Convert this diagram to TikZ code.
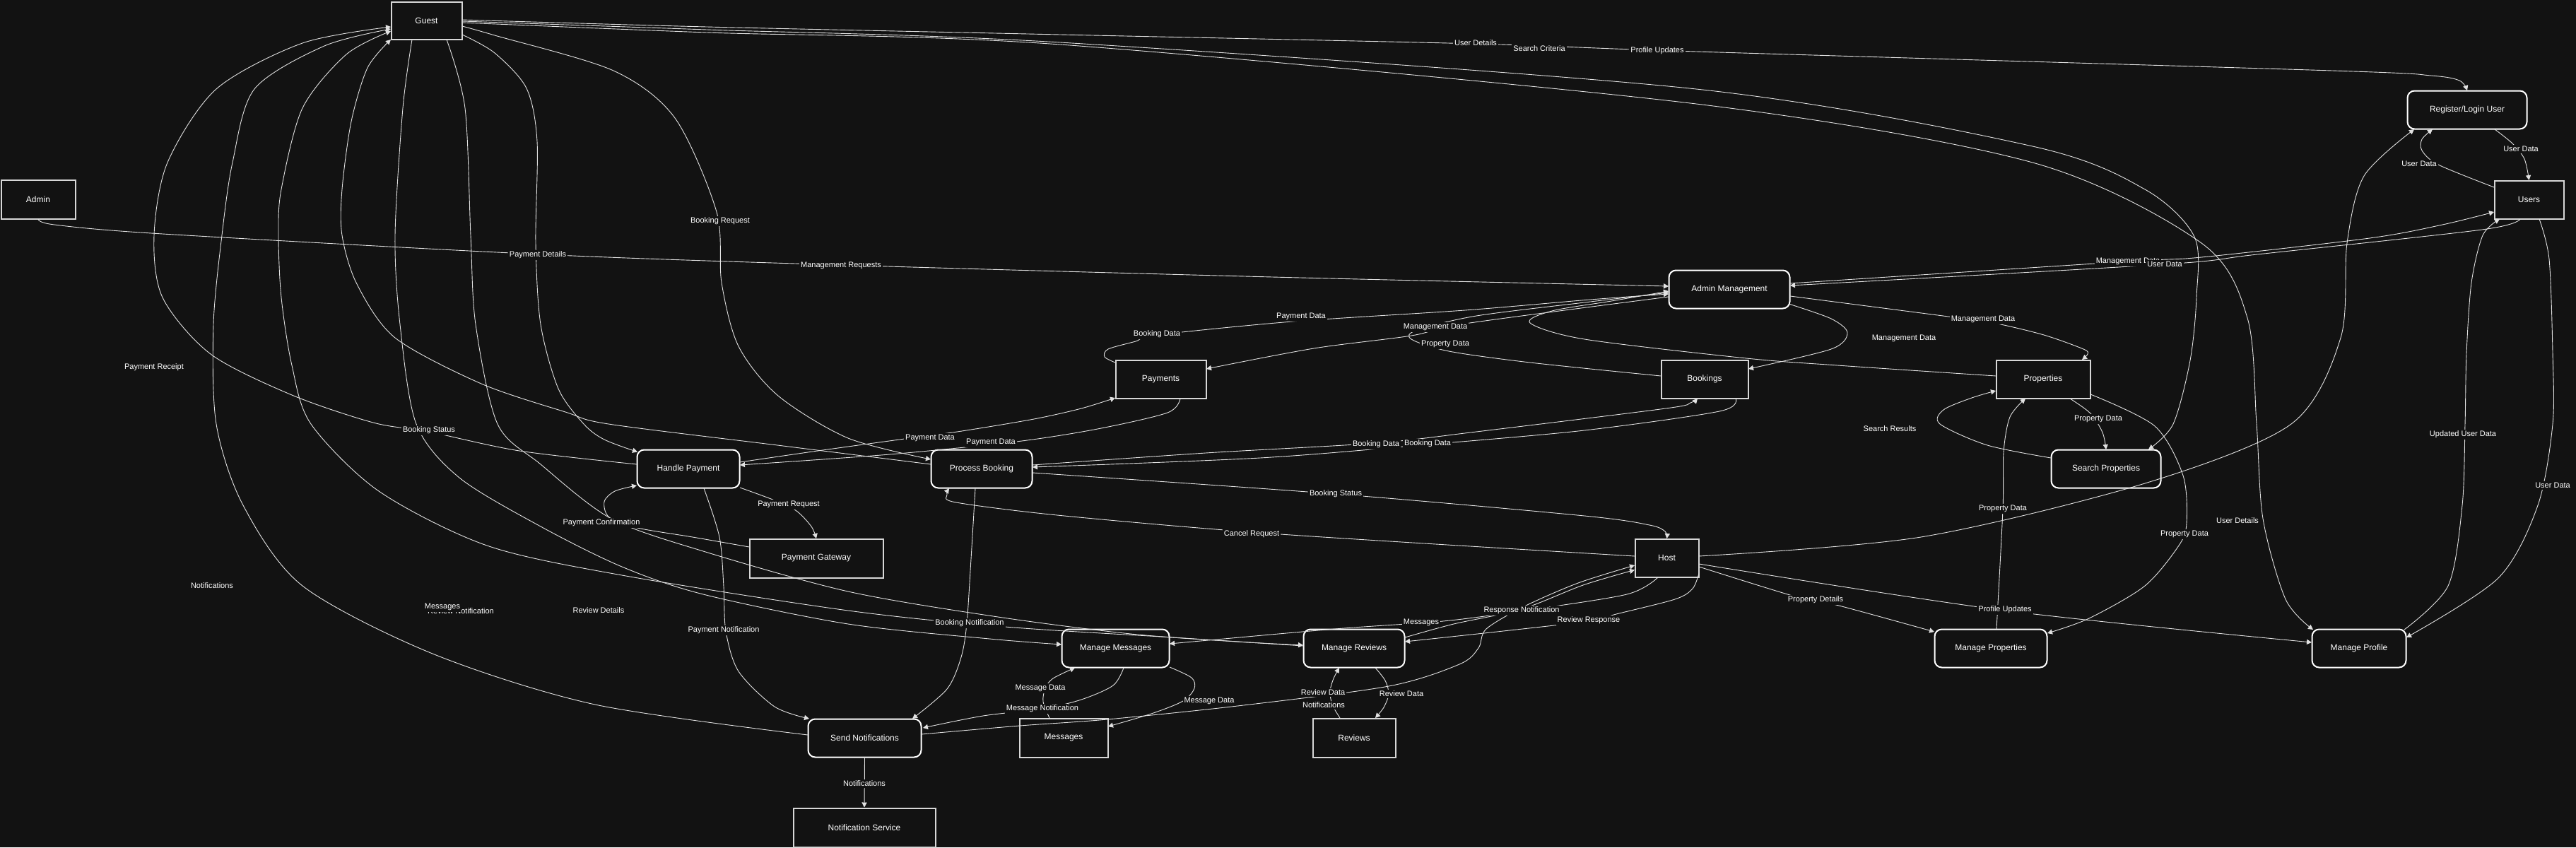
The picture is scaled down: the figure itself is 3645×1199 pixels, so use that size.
\documentclass[tikz,border=0pt]{standalone}
\usepackage{fontspec}
\setmainfont{Liberation Sans}
\usetikzlibrary{arrows.meta,calc}
\definecolor{bg}{RGB}{18,18,18}
\definecolor{edgec}{RGB}{225,225,225}
\definecolor{rectc}{RGB}{215,215,215}
\tikzset{
 ent/.style={draw=rectc, fill=bg, line width=1pt, text=white, font=\fontsize{6}{7}\selectfont, inner sep=0pt},
 proc/.style={draw=white, fill=bg, line width=1pt, rounded corners=5pt, text=white, font=\fontsize{6}{7}\selectfont, inner sep=0pt},
 edge/.style={draw=edgec, line width=0.45pt, -{Triangle[length=3.5pt,width=3.6pt]}},
 lbl/.style={fill=bg, text=white, font=\fontsize{5.5}{6}\selectfont, inner sep=1pt}
}
\begin{document}
\begin{tikzpicture}[x=0.5pt,y=-0.5pt]
\fill[bg] (0,0) rectangle (3645,1199);
\useasboundingbox (0,0) rectangle (3645,1199);
% nodes
\node[ent,minimum width=50pt,minimum height=26.5pt] (guest) at (603.5,29) {Guest};
\node[ent,minimum width=52.5pt,minimum height=27.5pt] (admin) at (54,282) {Admin};
\node[proc,minimum width=84.5pt,minimum height=27pt] (reg) at (3491,155.5) {Register/Login User};
\node[ent,minimum width=49pt,minimum height=27pt] (users) at (3578.5,282.5) {Users};
\node[proc,minimum width=85.5pt,minimum height=27pt] (adm) at (2447,409.5) {Admin Management};
\node[ent,minimum width=64pt,minimum height=27pt] (pay) at (1642.5,536.5) {Payments};
\node[ent,minimum width=61.5pt,minimum height=27pt] (book) at (2412,536.5) {Bookings};
\node[ent,minimum width=66.5pt,minimum height=27pt] (prop) at (2891,536.5) {Properties};
\node[proc,minimum width=77.5pt,minimum height=27pt] (search) at (2980,663.5) {Search Properties};
\node[proc,minimum width=72.5pt,minimum height=27pt] (hp) at (974,663.5) {Handle Payment};
\node[proc,minimum width=71.5pt,minimum height=27pt] (pb) at (1389,663.5) {Process Booking};
\node[ent,minimum width=94.5pt,minimum height=27.5pt] (pg) at (1155,790) {Payment Gateway};
\node[ent,minimum width=45pt,minimum height=27pt] (host) at (2358.5,789.5) {Host};
\node[proc,minimum width=76pt,minimum height=27pt] (mm) at (1578.5,917.5) {Manage Messages};
\node[proc,minimum width=71.5pt,minimum height=27pt] (mr) at (1916,917.5) {Manage Reviews};
\node[ent,minimum width=62.5pt,minimum height=27.5pt] (msg) at (1505,1044) {Messages};
\node[ent,minimum width=58.5pt,minimum height=27.5pt] (rev) at (1916,1044) {Reviews};
\node[proc,minimum width=80pt,minimum height=27pt] (sn) at (1223.5,1044.5) {Send Notifications};
\node[ent,minimum width=100.5pt,minimum height=27.5pt] (ns) at (1223,1171) {Notification Service};
\node[proc,minimum width=79.5pt,minimum height=27pt] (mprop) at (2817,917.5) {Manage Properties};
\node[proc,minimum width=66.5pt,minimum height=27pt] (mprof) at (3338,917.5) {Manage Profile};

% edges
\draw[edge] plot[smooth,tension=0.5] coordinates {($(guest)+(50.5,-1)$) (1000,38) (1500,49) (2088,62) (2400,73) (3300,100) (3440,107) (3480,114) ($(reg)+(0,-27.5)$)};
\draw[edge] plot[smooth,tension=0.5] coordinates {($(guest)+(50.5,1)$) (1000,42) (1500,60) (2400,126) (2876,207) (3035,268) (3105,335) (3108,420) (3099,510) (3075,600) ($(search)+(60,-27.5)$)};
\draw[edge] plot[smooth,tension=0.5] coordinates {($(guest)+(50.5,3)$) (1000,46) (1500,63) (2400,147) (2876,230) (3115,344) (3180,450) (3193,600) (3202,734) (3234,848) ($(mprof)+(-65,-26.5)$)};
\draw[edge] plot[smooth,tension=0.5] coordinates {($(guest)+(50.5,8)$) (700,50) (868,100) (955,167) (1014,300) (1021,400) (1045,490) (1101,560) (1200,620) ($(pb)+(-72,-13.5)$)};
\draw[edge] plot[smooth,tension=0.5] coordinates {($(guest)+(50.5,20)$) (700,75) (745,125) (760,200) (758,344) (765,459) (790,550) (826,600) (855,622) ($(hp)+(-72,-24)$)};
\draw[edge] plot[smooth,tension=0.5] coordinates {($(hp)+(-73,-6.5)$) (735,638) (607,611) (528,598) (413,559) (298,501) (230,421) (218,333) (237,230) (306,126) (428,61) ($(guest)+(-50.5,9)$)};
\draw[edge] plot[smooth,tension=0.5] coordinates {($(sn)+(-80.5,-4.5)$) (842,997) (612,925) (428,829) (344,715) (306,600) (302,459) (314,333) (329,230) (360,126) (459,65) ($(guest)+(-50.5,12)$)};
\draw[edge] plot[smooth,tension=0.5] coordinates {($(mr)+(-72,-3.5)$) (1659,902) (1422,887) (1200,864) (880,814) (689,772) (536,695) (440,600) (413,517) (398,421) (394,333) (398,268) (428,153) (490,77) ($(guest)+(-50.5,15)$)};
\draw[edge] plot[smooth,tension=0.5] coordinates {($(pb)+(-72,-6.5)$) (1100,630) (861,600) (800,583) (681,543) (559,478) (505,402) (484,333) (484,268) (497,172) (520,96) ($(guest)+(-50.5,27)$)};
\draw[edge] plot[smooth,tension=0.5] coordinates {($(guest)+(-20.5,27)$) (570,153) (559,333) (566,459) (589,600) (650,676) (765,745) (880,802) (995,841) (1200,883) (1400,904) ($(mm)+(-76.5,-5.5)$)};
\draw[edge] plot[smooth,tension=0.5] coordinates {($(guest)+(28.5,27)$) (658,153) (666,333) (673,459) (704,600) (765,657) (865,734) (995,780) (1200,837) (1412,873) (1600,897) (1750,908) ($(mr)+(-72,-4.5)$)};
\draw[edge] plot[smooth,tension=0.5] coordinates {($(pg)+(-95,-16)$) (980,760) (902,747) (862,732) (855,710) (870,695) ($(hp)+(-73,23.5)$)};
\draw[edge] plot[smooth,tension=0.5] coordinates {($(hp)+(73,26.5)$) (1096,708) (1127,723) (1148,745) ($(pg)+(0,-28)$)};
\draw[edge] plot[smooth,tension=0.5] coordinates {($(hp)+(22,27.5)$) (1018,760) (1024,830) (1027,893) (1045,950) (1096,1000) ($(sn)+(-78.5,-27.5)$)};
\draw[edge] plot[smooth,tension=0.5] coordinates {($(pb)+(-9,27.5)$) (1374,791) (1368,882) (1360,930) (1340,975) ($(sn)+(67.5,-27.5)$)};
\draw[edge] (sn.south) -- (ns.north);
\draw[edge] plot[smooth,tension=0.5] coordinates {($(mm)+(11.5,27.5)$) (1575,970) (1530,990) (1475,1003) (1391,1013) ($(sn)+(82.5,-14.5)$)};
\draw[edge] plot[smooth,tension=0.5] coordinates {($(msg)+(-20,-28)$) (1476,993) (1479,974) (1490,960) ($(mm)+(-57.5,27.5)$)};
\draw[edge] plot[smooth,tension=0.5] coordinates {($(mm)+(76.5,26.5)$) (1686,959) (1690,974) (1674,992) (1629,1010) ($(msg)+(63,-16)$)};
\draw[edge] plot[smooth,tension=0.5] coordinates {($(sn)+(80.5,-5.5)$) (1443,1027) (1567,1018) (1751,999) (1965,971) (2065,940) (2092,917) (2103,890) (2157,858) (2233,825) ($(host)+(-45.5,10.5)$)};
\draw[edge] plot[smooth,tension=0.5] coordinates {($(mr)+(72,-15.5)$) (2057,883) (2153,862) (2240,828) ($(host)+(-45.5,17)$)};
\draw[edge] plot[smooth,tension=0.5] coordinates {($(host)+(-12.5,27.5)$) (2302,841) (2157,864) (2042,879) (1889,890) ($(mm)+(76.5,-6.5)$)};
\draw[edge] plot[smooth,tension=0.5] coordinates {($(host)+(45.5,21.5)$) (2395,833) (2370,848) (2287,869) (2248,879) (2118,894) ($(mr)+(72,-9.5)$)};
\draw[edge] plot[smooth,tension=0.5] coordinates {($(pb)+(72,5.5)$) (1890,699) (2242,730) (2334,743) (2356,752) ($(host)+(0,-27.5)$)};
\draw[edge] plot[smooth,tension=0.5] coordinates {($(host)+(-45.5,-2.5)$) (1812,756) (1506,730) (1353,711) (1340,700) ($(pb)+(-46,27.5)$)};
\draw[edge] plot[smooth,tension=0.5] coordinates {($(pb)+(72,-5.5)$) (1706,641) (1947,627) (2089,611) (2357,578) (2392,570) ($(book)+(-10,27.5)$)};
\draw[edge] plot[smooth,tension=0.5] coordinates {($(book)+(44,27.5)$) (2433,582) (2242,609) (2020,629) (1783,648) ($(pb)+(72,-2.5)$)};
\draw[edge] plot[smooth,tension=0.5] coordinates {($(hp)+(73,-9.5)$) (1157,638) (1280,621) (1361,610) (1463,593) (1530,578) ($(pay)+(-64.5,26.5)$)};
\draw[edge] plot[smooth,tension=0.5] coordinates {($(pay)+(27.5,27.5)$) (1652,584) (1553,607) (1438,625) (1259,643) ($(hp)+(73,-5.5)$)};
\draw[edge] plot[smooth,tension=0.5] coordinates {($(pay)+(-64.5,-23.5)$) (1563,505) (1568,494) (1607,483) (1637,474) (1829,455) (2073,439) (2250,424) ($(adm)+(-86,6.5)$)};
\draw[edge] plot[smooth,tension=0.5] coordinates {($(adm)+(-86,10.5)$) (2073,458) (1997,475) (1859,493) ($(pay)+(64.5,-14.5)$)};
\draw[edge] plot[smooth,tension=0.5] coordinates {($(book)+(-62,-4.5)$) (2165,513) (2050,497) (1997,480) (2005,467) (2089,447) (2242,428) ($(adm)+(-86,4.5)$)};
\draw[edge] plot[smooth,tension=0.5] coordinates {($(prop)+(-67,-4.5)$) (2600,517) (2471,507) (2242,480) (2165,457) (2196,440) (2280,426) ($(adm)+(-86,2.5)$)};
\draw[edge] plot[smooth,tension=0.5] coordinates {($(admin)+(0,28)$) (77,318) (230,331) (765,360) (1190,375) (1800,392) ($(adm)+(-86,-4.5)$)};
\draw[edge] plot[smooth,tension=0.5] coordinates {($(users)+(-12.5,27.5)$) (3512,325) (3194,360) (3063,374) ($(adm)+(86,-5.5)$)};
\draw[edge] plot[smooth,tension=0.5] coordinates {($(adm)+(86,-8.5)$) (3011,370) (3115,364) (3353,337) (3456,318) ($(users)+(-49.5,17.5)$)};
\draw[edge] plot[smooth,tension=0.5] coordinates {($(adm)+(84,20.5)$) (2591,451) (2614,471) (2591,494) ($(book)+(62,-14.5)$)};
\draw[edge] plot[smooth,tension=0.5] coordinates {($(adm)+(86,9.5)$) (2757,448) (2821,457) (2892,474) (2948,494) (2954,501) ($(prop)+(55,-27.5)$)};
\draw[edge] plot[smooth,tension=0.5] coordinates {($(prop)+(38,27.5)$) (2958,585) (2975,612) ($(search)+(0,-27.5)$)};
\draw[edge] plot[smooth,tension=0.5] coordinates {($(search)+(-78,-15.5)$) (2812,630) (2745,600) (2750,580) (2790,563) ($(prop)+(-67,16.5)$)};
\draw[edge] plot[smooth,tension=0.5] coordinates {($(mprop)+(8,-27.5)$) (2834,720) (2835,640) (2844,590) ($(prop)+(-25,27.5)$)};
\draw[edge] plot[smooth,tension=0.5] coordinates {($(prop)+(67,21.5)$) (3049,603) (3089,673) (3094,740) (3083,772) (3035,829) (2956,875) ($(mprop)+(80,-21.5)$)};
\draw[edge] plot[smooth,tension=0.5] coordinates {($(host)+(45.5,12.5)$) (2543,845) (2602,857) ($(mprop)+(-80,-23.5)$)};
\draw[edge] plot[smooth,tension=0.5] coordinates {($(host)+(45.5,8.5)$) (2837,864) ($(mprof)+(-67,-8.5)$)};
\draw[edge] plot[smooth,tension=0.5] coordinates {($(host)+(45.5,-2.5)$) (2718,760) (3035,684) (3242,600) (3312,478) (3321,344) (3345,249) ($(reg)+(-75,27.5)$)};
\draw[edge] plot[smooth,tension=0.5] coordinates {($(users)+(-49.5,-17.5)$) (3450,233) (3427,213) (3427,197) ($(reg)+(-49,27.5)$)};
\draw[edge] plot[smooth,tension=0.5] coordinates {($(reg)+(39,27.5)$) (3555,203) (3572,225) ($(users)+(0,-27.5)$)};
\draw[edge] plot[smooth,tension=0.5] coordinates {($(mprof)+(64,-26.5)$) (3464,829) (3484,715) (3488,600) (3490,500) (3497,400) (3513,333) ($(users)+(-41.5,27.5)$)};
\draw[edge] plot[smooth,tension=0.5] coordinates {($(users)+(14.5,27.5)$) (3607,367) (3612,500) (3612,600) (3591,715) (3535,818) ($(mprof)+(67,-15.5)$)};
\draw[edge] plot[smooth,tension=0.5] coordinates {($(mr)+(30,27.5)$) (1960,963) (1965,982) (1958,1001) ($(rev)+(30,-28)$)};
\draw[edge] plot[smooth,tension=0.5] coordinates {($(rev)+(-20,-28)$) (1885,997) (1882,978) (1887,960) ($(mr)+(-21,27.5)$)};

% labels
\node[lbl] (l1) at (2088,61) {User Details};
\node[lbl] (l2) at (2178,69) {Search Criteria};
\node[lbl] (l3) at (2345,72) {Profile Updates};
\node[lbl] (l4) at (1019,313) {Booking Request};
\node[lbl] (l5) at (761,361) {Payment Details};
\node[lbl] (l6) at (1190,376) {Management Requests};
\node[lbl] (l7) at (218,520) {Payment Receipt};
\node[lbl] (l8) at (607,609) {Booking Status};
\node[lbl] (l9) at (300,829) {Notifications};
\node[lbl] (l10) at (652,865) {Review Notification};
\node[lbl] (l11) at (626,859) {Messages};
\node[lbl] (l12) at (847,864) {Review Details};
\node[lbl] (l13) at (851,740) {Payment Confirmation};
\node[lbl] (l14) at (1116,714) {Payment Request};
\node[lbl] (l15) at (1024,892) {Payment Notification};
\node[lbl] (l16) at (1316,620) {Payment Data};
\node[lbl] (l17) at (1402,626) {Payment Data};
\node[lbl] (l18) at (1372,882) {Booking Notification};
\node[lbl] (l19) at (1637,473) {Booking Data};
\node[lbl] (l20) at (1841,448) {Payment Data};
\node[lbl] (l21) at (2031,463) {Management Data};
\node[lbl] (l22) at (2045,487) {Property Data};
\node[lbl] (l23) at (1947,629) {Booking Data};
\node[lbl] (l24) at (2020,628) {Booking Data};
\node[lbl] (l25) at (1890,699) {Booking Status};
\node[lbl] (l26) at (1771,756) {Cancel Request};
\node[lbl] (l27) at (2011,881) {Messages};
\node[lbl] (l28) at (2153,864) {Response Notification};
\node[lbl] (l29) at (2248,878) {Review Response};
\node[lbl] (l30) at (1472,974) {Message Data};
\node[lbl] (l31) at (1475,1003) {Message Notification};
\node[lbl] (l32) at (1711,992) {Message Data};
\node[lbl] (l33) at (1872,980) {Review Data};
\node[lbl] (l34) at (1873,998) {Notifications};
\node[lbl] (l35) at (1983,982) {Review Data};
\node[lbl] (l36) at (1223,1109) {Notifications};
\node[lbl] (l37) at (2806,452) {Management Data};
\node[lbl] (l38) at (2694,479) {Management Data};
\node[lbl] (l39) at (3011,370) {Management Data};
\node[lbl] (l40) at (3063,374) {User Data};
\node[lbl] (l41) at (3423,232) {User Data};
\node[lbl] (l42) at (3567,211) {User Data};
\node[lbl] (l43) at (2969,593) {Property Data};
\node[lbl] (l44) at (2674,607) {Search Results};
\node[lbl] (l45) at (2834,720) {Property Data};
\node[lbl] (l46) at (3091,756) {Property Data};
\node[lbl] (l47) at (3166,737) {User Details};
\node[lbl] (l48) at (3485,615) {Updated User Data};
\node[lbl] (l49) at (3612,687) {User Data};
\node[lbl] (l50) at (2569,849) {Property Details};
\node[lbl] (l51) at (2837,863) {Profile Updates};
\end{tikzpicture}
\end{document}
